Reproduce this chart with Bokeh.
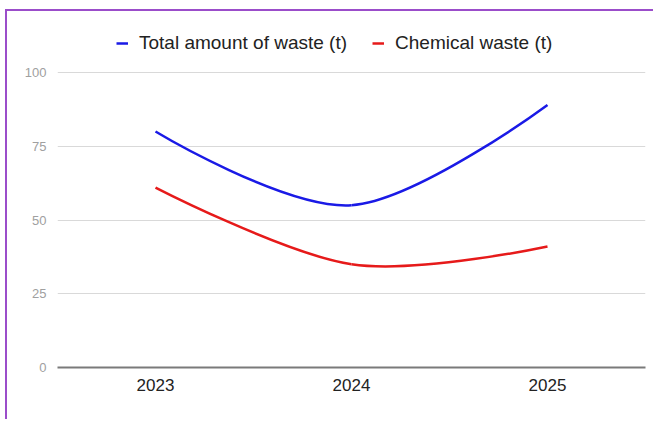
from bokeh.plotting import figure
from bokeh.models import Legend, LegendItem, FixedTicker, Range1d
from bokeh.embed import file_html
from bokeh.resources import INLINE

years = ["2023", "2024", "2025"]
total_waste = [80, 55, 89]
chemical_waste = [61, 35, 41]
y_ticks = [0, 25, 50, 75, 100]

series_names = ["Total amount of waste (t)", "Chemical waste (t)"]
series_colors = ["#1a1ae6", "#e61a1a"]

xs = list(range(len(years)))

# layout numbers (pixels)
FRAME_H = 347
AXIS_H = 295  # pixels spanned by 0..100
y_top = y_ticks[-1] * FRAME_H / AXIS_H


def smooth_segments(xv, yv, s=1.0 / 6.0):
    n = len(xv)
    tx, ty = [], []
    for i in range(n):
        if i == 0 or i == n - 1:
            tx.append(0.0)
            ty.append(0.0)
        else:
            tx.append((xv[i + 1] - xv[i - 1]) * s)
            ty.append((yv[i + 1] - yv[i - 1]) * s)
    seg = dict(x0=[], y0=[], x1=[], y1=[], cx0=[], cy0=[], cx1=[], cy1=[])
    for i in range(n - 1):
        seg["x0"].append(xv[i]); seg["y0"].append(yv[i])
        seg["x1"].append(xv[i + 1]); seg["y1"].append(yv[i + 1])
        seg["cx0"].append(xv[i] + tx[i]); seg["cy0"].append(yv[i] + ty[i])
        seg["cx1"].append(xv[i + 1] - tx[i + 1]); seg["cy1"].append(yv[i + 1] - ty[i + 1])
    return seg


p = figure(width=648, height=410, output_backend="svg", toolbar_location=None,
           x_range=Range1d(-0.5, len(years) - 0.5), y_range=Range1d(0, y_top),
           min_border_left=50, min_border_right=10, min_border_bottom=54, min_border_top=9)
p.styles = {"margin-left": "5px", "margin-top": "9px",
            "border-left": "2px solid #9b4dca", "border-top": "2px solid #9b4dca"}
p.outline_line_color = None
p.background_fill_color = "white"
p.border_fill_color = "white"

renderers = []
for vals, col in zip([total_waste, chemical_waste], series_colors):
    seg = smooth_segments(xs, vals)
    r = p.bezier(x0=seg["x0"], y0=seg["y0"], x1=seg["x1"], y1=seg["y1"],
                 cx0=seg["cx0"], cy0=seg["cy0"], cx1=seg["cx1"], cy1=seg["cy1"],
                 line_color=col, line_width=2.5)
    renderers.append(r)

# axes
p.xaxis.ticker = FixedTicker(ticks=xs)
p.xaxis.major_label_overrides = {i: y for i, y in enumerate(years)}
p.xaxis.major_tick_line_color = None
p.xaxis.minor_tick_line_color = None
p.xaxis.axis_line_color = "#7a7a7a"
p.xaxis.axis_line_width = 2
p.xaxis.major_label_text_font = "Liberation Sans"
p.xaxis.major_label_text_font_size = "17px"
p.xaxis.major_label_text_color = "#222222"
p.xaxis.major_label_standoff = 5

p.yaxis.ticker = FixedTicker(ticks=y_ticks)
p.yaxis.axis_line_color = None
p.yaxis.major_tick_line_color = None
p.yaxis.minor_tick_line_color = None
p.yaxis.major_label_text_font = "Liberation Sans"
p.yaxis.major_label_text_font_size = "13px"
p.yaxis.major_label_text_color = "#a0a0a0"
p.yaxis.major_label_standoff = 5

p.xgrid.grid_line_color = None
p.ygrid.ticker = FixedTicker(ticks=y_ticks)
p.ygrid.grid_line_color = "#d9d9d9"
p.ygrid.grid_line_width = 1

legend = Legend(items=[LegendItem(label=n, renderers=[r]) for n, r in zip(series_names, renderers)],
                orientation="horizontal", location=(59, 313))
legend.label_text_font = "Liberation Sans"
legend.label_text_font_size = "19px"
legend.label_text_color = "#222222"
legend.glyph_width = 12
legend.glyph_height = 16
legend.label_standoff = 11
legend.spacing = 25
legend.padding = 6
legend.margin = 0
legend.border_line_color = None
legend.background_fill_alpha = 0
p.add_layout(legend)

open("out.html", "w").write(file_html(p, INLINE))
